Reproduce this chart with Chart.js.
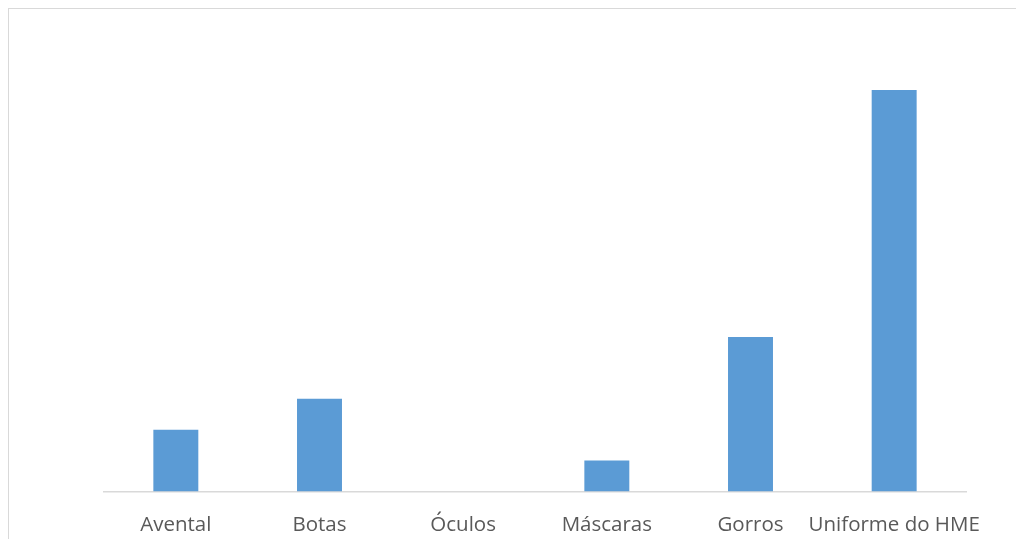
<!DOCTYPE html>
<html>
<head>
<meta charset="utf-8">
<script src="https://cdn.jsdelivr.net/npm/chart.js@4/dist/chart.umd.min.js"></script>
<style>
  html, body { margin: 0; padding: 0; background: #ffffff; overflow: hidden; }
  #wrap { position: relative; width: 1016px; height: 539px; }
  #frame { position: absolute; left: 8px; top: 8px; width: 1100px; height: 600px; border: 1.5px solid #d9d9d9; box-sizing: border-box; }
  canvas { position: absolute; left: 0; top: 0; }
</style>
</head>
<body>
<div id="wrap">
  <div id="frame"></div>
  <canvas id="c" width="1016" height="539"></canvas>
</div>
<script>
const categories = ["Avental", "Botas", "Óculos", "Máscaras", "Gorros", "Uniforme do HME"];
const values = [2, 3, 0, 1, 5, 13];
const yMax = 14;

new Chart(document.getElementById('c'), {
  type: 'bar',
  data: {
    labels: categories,
    datasets: [{
      data: values,
      backgroundColor: '#5b9bd5',
      borderWidth: 0,
      barPercentage: 1,
      categoryPercentage: 0.313
    }]
  },
  options: {
    responsive: false,
    animation: false,
    devicePixelRatio: 1,
    layout: { padding: { left: 104, right: 50, top: 59, bottom: -19 } },
    plugins: { legend: { display: false }, tooltip: { enabled: false } },
    scales: {
      x: {
        grid: { display: false, drawTicks: false },
        border: { display: true, color: '#d9d9d9', width: 1.5 },
        ticks: {
          color: '#595959',
          padding: 21,
          maxRotation: 0,
          minRotation: 0,
          autoSkip: false,
          font: { family: 'Open Sans', size: 20.5 }
        }
      },
      y: {
        display: false,
        min: 0,
        max: yMax
      }
    }
  }
});
</script>
</body>
</html>
